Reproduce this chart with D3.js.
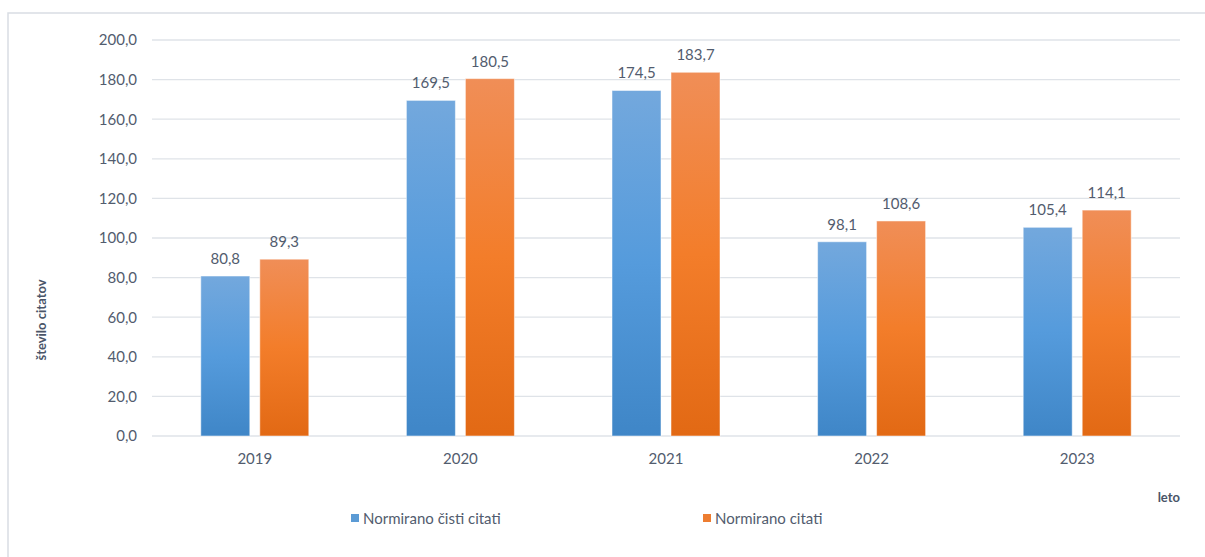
<!DOCTYPE html>
<html><head><meta charset="utf-8">
<script src="https://cdn.jsdelivr.net/npm/d3@7"></script>
<style>
html,body{margin:0;padding:0;background:#fff;}
svg{display:block;font-family:Lato, "Open Sans", sans-serif;}
</style></head>
<body><svg id="c" width="1205" height="557"></svg>
<script>
const categories = ["2019","2020","2021","2022","2023"];
const seriesNames = ["Normirano čisti citati","Normirano citati"];
const cleanCitations = [80.8,169.5,174.5,98.1,105.4];
const citations = [89.3,180.5,183.7,108.6,114.1];
const yTicks = [0,20,40,60,80,100,120,140,160,180,200];

const svg = d3.select("#c");
const W=1205,H=557;
const m={left:152,right:1180,top:40,bottom:436};
const textColor="#525c6e";

// frame
svg.append("rect").attr("x",8).attr("y",13).attr("width",1205).attr("height",560)
  .attr("fill","#fff").attr("stroke","#d9dde3").attr("stroke-width",1.5);

const defs=svg.append("defs");
const gradB=defs.append("linearGradient").attr("id","gB").attr("x1",0).attr("y1",0).attr("x2",0).attr("y2",1);
gradB.append("stop").attr("offset","0%").attr("stop-color","#73a8dd");
gradB.append("stop").attr("offset","50%").attr("stop-color","#559bdc");
gradB.append("stop").attr("offset","100%").attr("stop-color","#3f86c7");
const gradO=defs.append("linearGradient").attr("id","gO").attr("x1",0).attr("y1",0).attr("x2",0).attr("y2",1);
gradO.append("stop").attr("offset","0%").attr("stop-color","#f08e57");
gradO.append("stop").attr("offset","50%").attr("stop-color","#f37d2a");
gradO.append("stop").attr("offset","100%").attr("stop-color","#e26914");

const x=d3.scaleBand().domain(categories).range([m.left,m.right]).paddingInner(0).paddingOuter(0);
const y=d3.scaleLinear().domain([0,200]).range([m.bottom,m.top]);
const barW=49, gap=10;

// gridlines
svg.append("g").selectAll("line").data(yTicks).join("line")
  .attr("x1",m.left).attr("x2",m.right)
  .attr("y1",d=>y(d)).attr("y2",d=>y(d))
  .attr("stroke","#dfe3e8").attr("stroke-width",1.3);

// y axis labels
const yAxis=d3.axisLeft(y).tickValues(yTicks).tickSize(0).tickPadding(15)
  .tickFormat(d=>d3.format(".1f")(d).replace(".",","));
const ga=svg.append("g").attr("transform",`translate(${m.left},0)`).call(yAxis);
ga.select(".domain").remove();
ga.selectAll("text").attr("fill",textColor).attr("font-size",15).attr("font-family","Lato, sans-serif");

// x axis labels
const xAxis=d3.axisBottom(x).tickSize(0).tickPadding(17);
const gx=svg.append("g").attr("transform",`translate(0,${m.bottom})`).call(xAxis);
gx.select(".domain").remove();
gx.selectAll("text").attr("fill",textColor).attr("font-size",15).attr("font-family","Lato, sans-serif");

const series=[{vals:cleanCitations,fill:"url(#gB)",off:-(gap/2+barW)},{vals:citations,fill:"url(#gO)",off:gap/2}];
series.forEach(s=>{
  const g=svg.append("g");
  g.selectAll("rect").data(categories).join("rect")
    .attr("x",(c)=>x(c)+x.bandwidth()/2+s.off)
    .attr("y",(c,i)=>y(s.vals[i]))
    .attr("width",barW)
    .attr("height",(c,i)=>y(0)-y(s.vals[i]))
    .attr("fill",s.fill).attr("stroke","#ffffff").attr("stroke-opacity",0.5).attr("stroke-width",1);
  g.selectAll("text").data(categories).join("text")
    .attr("x",(c)=>x(c)+x.bandwidth()/2+s.off+barW/2)
    .attr("y",(c,i)=>y(s.vals[i])-12)
    .attr("text-anchor","middle").attr("fill",textColor).attr("font-size",15)
    .text((c,i)=>d3.format(".1f")(s.vals[i]).replace(".",","));
});

// axis titles
svg.append("text").attr("transform","translate(46,320) rotate(-90)")
  .attr("text-anchor","middle").attr("font-weight","bold").attr("font-size",13)
  .attr("fill","#4a5568").text("število citatov");
svg.append("text").attr("x",1180).attr("y",502).attr("text-anchor","end")
  .attr("font-weight","bold").attr("font-size",13).attr("fill","#4a5568").text("leto");

// legend
const legendX=[351,703];
const legendFill=["#5b9bd5","#ed7d31"];
const lg=svg.append("g").selectAll("g").data(seriesNames).join("g")
  .attr("transform",(d,i)=>`translate(${legendX[i]},0)`);
lg.append("rect").attr("x",0).attr("y",514).attr("width",8).attr("height",8).attr("fill",(d,i)=>legendFill[i]);
lg.append("text").attr("x",12).attr("y",524).attr("font-size",15).attr("fill",textColor).text(d=>d);
</script></body></html>
